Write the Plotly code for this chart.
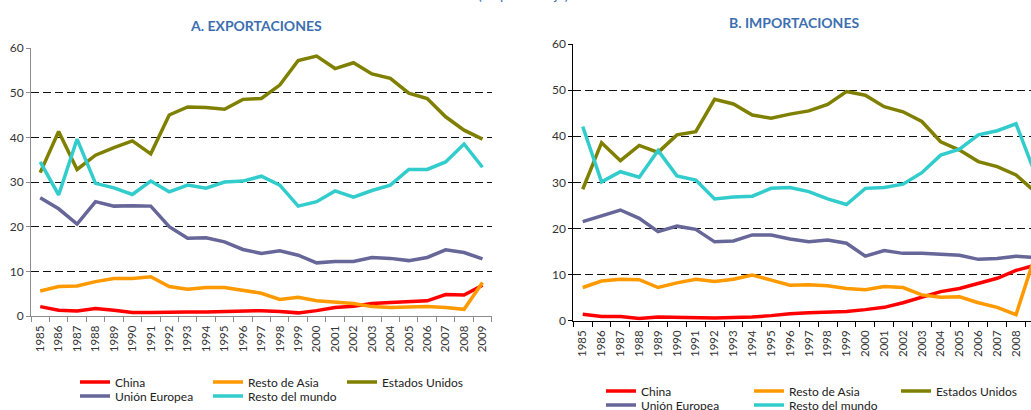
import plotly.graph_objects as go

years = [str(y) for y in range(1985, 2010)]

series_names = ["China", "Resto de Asia", "Estados Unidos", "Unión Europea", "Resto del mundo"]
series_colors = ["#FF0000", "#FF9900", "#808000", "#666699", "#33CCCC"]

# A. Exportaciones (%)
china_exp = [2.1, 1.3, 1.1, 1.7, 1.3, 0.8, 0.8, 0.9, 0.9, 0.9, 1.0, 1.2, 1.2, 1.0, 0.7, 1.2, 1.9, 2.2, 2.8, 3.0, 3.2, 3.4, 4.8, 4.7, 6.9]
asia_exp = [5.6, 6.6, 6.7, 7.7, 8.4, 8.4, 8.8, 6.6, 6.0, 6.4, 6.4, 5.8, 5.1, 3.7, 4.2, 3.4, 3.1, 2.8, 2.1, 1.9, 2.0, 2.1, 1.9, 1.5, 7.5]
eeuu_exp = [32.1, 41.3, 32.8, 36.0, 37.7, 39.2, 36.3, 45.0, 46.8, 46.7, 46.3, 48.5, 48.7, 51.7, 57.2, 58.2, 55.4, 56.7, 54.2, 53.2, 49.9, 48.7, 44.6, 41.6, 39.6]
ue_exp = [26.5, 24.0, 20.6, 25.6, 24.6, 24.7, 24.6, 20.0, 17.4, 17.5, 16.6, 14.9, 14.0, 14.6, 13.6, 11.9, 12.2, 12.2, 13.1, 12.9, 12.4, 13.1, 14.8, 14.2, 12.8]
resto_exp = [34.5, 27.1, 39.6, 29.7, 28.7, 27.2, 30.2, 27.8, 29.3, 28.6, 30.0, 30.2, 31.3, 29.3, 24.6, 25.6, 28.0, 26.6, 28.1, 29.3, 32.8, 32.8, 34.5, 38.5, 33.3]

# B. Importaciones (%)
china_imp = [1.4, 0.9, 0.9, 0.5, 0.8, 0.7, 0.6, 0.6, 0.7, 0.8, 1.1, 1.5, 1.7, 1.8, 2.0, 2.4, 2.9, 3.9, 5.1, 6.3, 7.0, 8.1, 9.2, 10.9, 12.0]
asia_imp = [7.2, 8.6, 9.0, 8.9, 7.2, 8.2, 9.0, 8.5, 9.0, 9.9, 8.8, 7.7, 7.8, 7.6, 7.0, 6.7, 7.4, 7.2, 5.6, 5.1, 5.2, 3.9, 2.9, 1.3, 14.0]
eeuu_imp = [28.5, 38.6, 34.7, 38.0, 36.5, 40.3, 41.0, 48.0, 47.0, 44.6, 43.9, 44.8, 45.5, 46.9, 49.7, 48.9, 46.4, 45.3, 43.2, 38.8, 37.0, 34.5, 33.4, 31.6, 28.0]
ue_imp = [21.5, 22.7, 24.0, 22.2, 19.3, 20.5, 19.8, 17.1, 17.3, 18.6, 18.6, 17.7, 17.1, 17.5, 16.8, 14.0, 15.2, 14.6, 14.6, 14.4, 14.2, 13.3, 13.5, 14.0, 13.7]
resto_imp = [42.1, 30.1, 32.3, 31.1, 36.9, 31.4, 30.5, 26.4, 26.8, 27.0, 28.7, 28.9, 28.0, 26.4, 25.2, 28.7, 28.9, 29.6, 32.1, 35.9, 37.2, 40.3, 41.2, 42.7, 32.0]

y_ticks = [0, 10, 20, 30, 40, 50, 60]

W, H = 1031, 410
FONT = "Lato, 'Open Sans', sans-serif"
TITLE_BLUE = "#3D6FB0"

exp_series = [china_exp, asia_exp, eeuu_exp, ue_exp, resto_exp]
imp_series = [china_imp, asia_imp, eeuu_imp, ue_imp, resto_imp]


def px_x(p):
    return p / W


def px_y(p):
    return (H - p) / H


# legend slot (line start x, row centre y) in pixels, one per series
left_slots = [(81, 382), (214, 382), (348, 382), (81, 396), (214, 396)]
right_slots = [(607, 391), (755, 391), (902, 391), (607, 405), (755, 405)]

fig = go.Figure()
legend_layout = {}
lg = 1
for panel, (series, slots, xa, ya) in enumerate([
    (exp_series, left_slots, "x", "y"),
    (imp_series, right_slots, "x2", "y2"),
]):
    for name, color, vals, (lx, ly) in zip(series_names, series_colors, series, slots):
        lid = "legend" if lg == 1 else f"legend{lg}"
        fig.add_trace(go.Scatter(
            x=years, y=vals, mode="lines", name=name,
            line=dict(color=color, width=3.5),
            xaxis=xa, yaxis=ya, legend=lid,
        ))
        legend_layout[lid] = dict(
            orientation="h", xanchor="left", yanchor="middle",
            x=px_x(lx - 6), y=px_y(ly),
            bgcolor="rgba(0,0,0,0)", borderwidth=0, itemwidth=30,
            itemclick=False, itemdoubleclick=False,
            font=dict(size=12, color="#222222", family=FONT),
        )
        lg += 1

# left panel geometry (pixels)
L_x0, L_x1 = 31, 491.7
L_y0, L_y60 = 316, 48
# right panel geometry
R_x0, R_cat = 573.3, 18.84
R_y0, R_y60 = 320.7, 44
R_range_end = -0.5 + (W - R_x0) / R_cat

xcommon = dict(
    type="category", categoryorder="array", categoryarray=years,
    tickson="boundaries", ticks="outside", ticklen=5, tickwidth=1,
    tickangle=-90, showgrid=False, zeroline=False, showline=True, linewidth=1,
    fixedrange=True, ticklabelstandoff=4,
)
ycommon = dict(
    range=[0, 60], tickvals=y_ticks, ticks="outside", ticklen=4, tickwidth=1,
    showgrid=True, gridcolor="#111111", gridwidth=1.2, griddash="8px,4px",
    zeroline=False, showline=True, linewidth=1, fixedrange=True,
)

fig.update_layout(
    width=W, height=H,
    margin=dict(l=0, r=0, t=0, b=0, autoexpand=False),
    paper_bgcolor="white", plot_bgcolor="white",
    font=dict(family=FONT, color="#222222"),
    showlegend=True,
    xaxis=dict(**xcommon, domain=[px_x(L_x0), px_x(L_x1)], anchor="y",
               range=[-0.5, 24.5], linecolor="#8c8c8c", tickcolor="#8c8c8c",
               tickfont=dict(size=11.5, color="#333333")),
    yaxis=dict(**ycommon, domain=[px_y(L_y0), px_y(L_y60)], anchor="x",
               linecolor="#8c8c8c", tickcolor="#8c8c8c",
               tickfont=dict(size=12, color="#333333")),
    xaxis2=dict(**xcommon, domain=[px_x(R_x0), 1.0], anchor="y2",
                range=[-0.5, R_range_end], linecolor="#000000", tickcolor="#000000",
                tickfont=dict(size=11.5, color="#333333")),
    yaxis2=dict(**ycommon, domain=[px_y(R_y0), px_y(R_y60)], anchor="x2",
                linecolor="#000000", tickcolor="#000000",
                tickfont=dict(size=12, color="#333333")),
    **legend_layout,
)

fig.add_annotation(text="<b>A. EXPORTACIONES</b>", xref="paper", yref="paper",
                   x=px_x(256), y=px_y(26), xanchor="center", yanchor="middle",
                   showarrow=False, font=dict(size=14, color=TITLE_BLUE, family=FONT))
fig.add_annotation(text="<b>B. IMPORTACIONES</b>", xref="paper", yref="paper",
                   x=px_x(794), y=px_y(22), xanchor="center", yanchor="middle",
                   showarrow=False, font=dict(size=14, color=TITLE_BLUE, family=FONT))
fig.add_annotation(text="(en porcentaje)", xref="paper", yref="paper",
                   x=px_x(523), y=1, xanchor="center", yanchor="bottom", yshift=-5,
                   showarrow=False, font=dict(size=14, color=TITLE_BLUE, family=FONT))

fig.write_html("out.html", post_script="document.body.style.margin='0px';",
               config={"displayModeBar": False})
